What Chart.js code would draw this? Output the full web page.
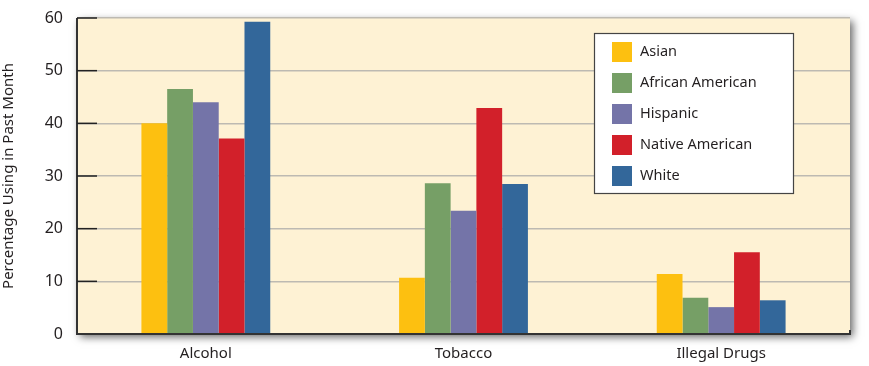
<!DOCTYPE html>
<html>
<head>
<meta charset="utf-8">
<script src="https://cdn.jsdelivr.net/npm/chart.js@4"></script>
<style>
  html, body { margin: 0; padding: 0; background: #fff; }
  #wrap { width: 869px; height: 366px; }
</style>
</head>
<body>
<div id="wrap"><canvas id="myChart" width="869" height="366"></canvas></div>
<script>
const categories = ['Alcohol', 'Tobacco', 'Illegal Drugs']
const groups = ['Asian', 'African American', 'Hispanic', 'Native American', 'White']
const asian = [40.0, 10.7, 11.4]
const africanAmerican = [46.5, 28.6, 6.9]
const hispanic = [44.0, 23.4, 5.1]
const nativeAmerican = [37.1, 42.9, 15.5]
const white = [59.3, 28.5, 6.4]
const colors = ['#fdc010', '#769f66', '#7474a8', '#d2202a', '#33679a']
const yTicks = [0, 10, 20, 30, 40, 50, 60]

const font = '"Noto Sans", sans-serif'
const ink = '#231f20'

// plot box: cream fill with drop shadow, dark left & bottom axis lines
const boxPlugin = {
  id: 'box',
  beforeDraw(chart) {
    const { ctx, chartArea: a } = chart
    ctx.save()
    ctx.shadowColor = 'rgba(0,0,0,0.6)'
    ctx.shadowBlur = 8
    ctx.shadowOffsetX = 3
    ctx.shadowOffsetY = 3
    ctx.fillStyle = '#fef2d4'
    ctx.fillRect(a.left, a.top, a.right - a.left, a.bottom - a.top)
    ctx.restore()
  },
  afterDatasetsDraw(chart) {
    const { ctx, chartArea: a, scales } = chart
    ctx.save()
    ctx.strokeStyle = '#333'
    ctx.lineWidth = 2
    ctx.beginPath()
    ctx.moveTo(a.left, a.top)
    ctx.lineTo(a.left, a.bottom)
    ctx.lineTo(a.right, a.bottom)
    ctx.lineTo(a.right, a.bottom - 4)
    ctx.stroke()
    // short tick marks inside the plot
    ctx.lineWidth = 1.5
    ctx.strokeStyle = '#222'
    yTicks.forEach(v => {
      if (v === 0) return
      const y = scales.y.getPixelForValue(v)
      ctx.beginPath()
      ctx.moveTo(a.left, y)
      ctx.lineTo(a.left + 20, y)
      ctx.stroke()
    })
    ctx.restore()
  },
  afterDraw(chart) {
    const { ctx } = chart
    const x = 594, y = 33, w = 199, h = 160
    ctx.save()
    ctx.fillStyle = '#fff'
    ctx.fillRect(x, y, w, h)
    ctx.strokeStyle = '#444'
    ctx.lineWidth = 1.2
    ctx.strokeRect(x + 0.5, y + 0.5, w, h)
    ctx.font = '14.5px ' + font
    ctx.textBaseline = 'middle'
    chart.data.datasets.forEach((ds, i) => {
      const cy = 52 + i * 31
      ctx.fillStyle = ds.backgroundColor
      ctx.fillRect(612, cy - 10, 20, 20)
      ctx.fillStyle = ink
      ctx.fillText(ds.label, 640, cy)
    })
    ctx.restore()
  }
}

const seriesData = [asian, africanAmerican, hispanic, nativeAmerican, white]

new Chart(document.getElementById('myChart'), {
  type: 'bar',
  data: {
    labels: categories,
    datasets: groups.map((g, i) => ({
      label: g,
      data: seriesData[i],
      backgroundColor: colors[i],
      barPercentage: 1.0,
      categoryPercentage: 0.5
    }))
  },
  options: {
    responsive: false,
    animation: false,
    layout: { padding: { top: 18, right: 19, left: 0, bottom: 0 } },
    plugins: { legend: { display: false }, tooltip: { enabled: false } },
    scales: {
      x: {
        grid: { display: false, drawTicks: false },
        border: { display: false },
        ticks: { color: ink, font: { family: font, size: 15 }, padding: 11 },
        afterFit(scale) { scale.height = 32 }
      },
      y: {
        min: 0, max: 60,
        afterBuildTicks(scale) { scale.ticks = yTicks.map(v => ({ value: v })) },
        grid: { color: '#bdbab2', lineWidth: 1.5, drawTicks: false },
        border: { display: false },
        ticks: { color: ink, font: { family: font, size: 16, lineHeight: 1 }, padding: 14 },
        title: {
          display: true, text: 'Percentage Using in Past Month',
          color: ink, font: { family: font, size: 15 }, padding: 0
        },
        afterFit(scale) {
          scale.width = 77
          scale.paddingTop = 0
          scale.paddingBottom = 0
        }
      }
    }
  },
  plugins: [boxPlugin]
})
</script>
</body>
</html>
